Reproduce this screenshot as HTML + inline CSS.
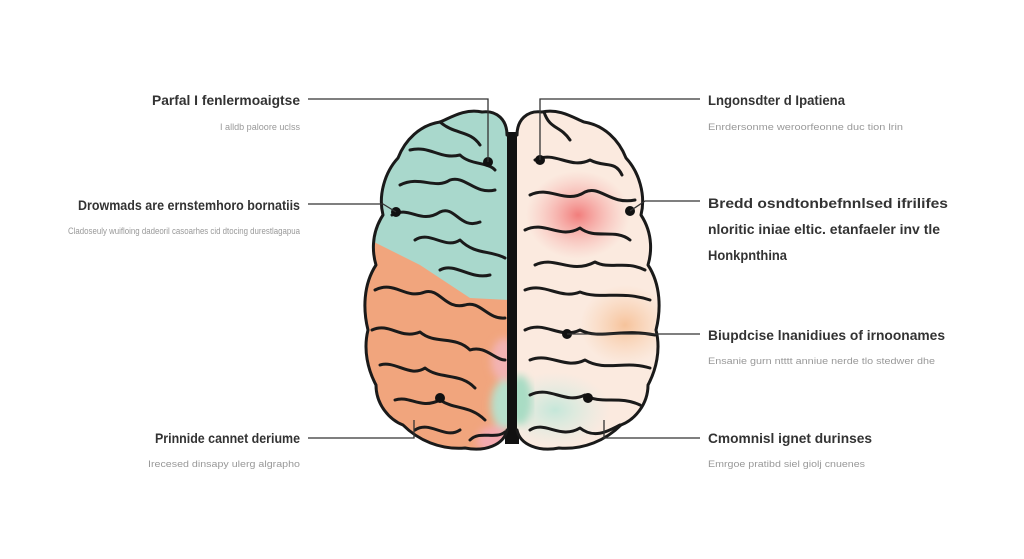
<!DOCTYPE html>
<html><head><meta charset="utf-8"><style>
html,body{margin:0;padding:0;background:#fff;}
svg{display:block}
.t{font-family:"Liberation Sans",sans-serif;font-weight:bold;font-size:14px;fill:#333;}
.s{font-family:"Liberation Sans",sans-serif;font-size:9px;fill:#999;}
.g{fill:none;stroke:#1a1a1a;stroke-width:3;stroke-linecap:round;stroke-linejoin:round}
.l{fill:none;stroke:#333;stroke-width:1.3}
</style></head><body>
<svg width="1024" height="559" viewBox="0 0 1024 559">
<defs>
<clipPath id="lh"><path d="M507,135 C507,120 497,110 482,112 C465,108 450,118 440,122 C420,125 405,140 398,158 C385,172 378,195 383,215 C370,235 373,255 376,265 C363,285 363,310 368,330 C363,350 368,370 376,385 C376,405 390,420 403,425 C418,440 440,450 465,448 C485,452 504,445 507,430 Z"/></clipPath>
<clipPath id="rh"><path d="M517,135 C517,120 527,110 542,112 C559,108 574,118 584,122 C604,125 619,140 626,158 C639,172 646,195 641,215 C654,235 651,255 648,265 C661,285 661,310 656,330 C661,350 656,370 648,385 C648,405 634,420 621,425 C606,440 584,450 559,448 C539,452 520,445 517,430 Z"/></clipPath>
<radialGradient id="red"><stop offset="0" stop-color="#f06a6a" stop-opacity=".85"/><stop offset="1" stop-color="#f6a0a0" stop-opacity="0"/></radialGradient>
<radialGradient id="org"><stop offset="0" stop-color="#f5b98a" stop-opacity=".8"/><stop offset="1" stop-color="#f8caa4" stop-opacity="0"/></radialGradient>
<radialGradient id="mint"><stop offset="0" stop-color="#bfe6d8" stop-opacity=".9"/><stop offset="1" stop-color="#d6efe6" stop-opacity="0"/></radialGradient>
<filter id="bl"><feGaussianBlur stdDeviation="4"/></filter>
</defs>
<rect x="505" y="132" width="14" height="312" fill="#111"/>
<g clip-path="url(#lh)">
<rect x="360" y="100" width="150" height="360" fill="#f1a57d"/>
<path d="M360,100 L510,100 L510,300 L470,298 L420,265 L370,240 Z" fill="#a9d8cc"/>
<g filter="url(#bl)">
<ellipse cx="505" cy="360" rx="14" ry="22" fill="#f2b3b3"/>
<ellipse cx="505" cy="405" rx="14" ry="25" fill="#b7e0cc"/>
<ellipse cx="495" cy="440" rx="18" ry="14" fill="#f4aab0"/>
</g>
</g>
<g clip-path="url(#rh)">
<rect x="515" y="100" width="150" height="360" fill="#fbeadf"/>
<ellipse cx="578" cy="215" rx="52" ry="44" fill="url(#red)"/>
<ellipse cx="625" cy="325" rx="45" ry="40" fill="url(#org)"/>
<ellipse cx="555" cy="410" rx="55" ry="38" fill="url(#mint)"/>
<ellipse cx="520" cy="400" rx="12" ry="25" fill="#a9dcc4" filter="url(#bl)"/>
</g>
<path class="g" d="M507,135 C507,120 497,110 482,112 C465,108 450,118 440,122 C420,125 405,140 398,158 C385,172 378,195 383,215 C370,235 373,255 376,265 C363,285 363,310 368,330 C363,350 368,370 376,385 C376,405 390,420 403,425 C418,440 440,450 465,448 C485,452 504,445 507,430"/>
<path class="g" d="M517,135 C517,120 527,110 542,112 C559,108 574,118 584,122 C604,125 619,140 626,158 C639,172 646,195 641,215 C654,235 651,255 648,265 C661,285 661,310 656,330 C661,350 656,370 648,385 C648,405 634,420 621,425 C606,440 584,450 559,448 C539,452 520,445 517,430"/>
<g class="g" stroke-width="2.2">
<path d="M440,122 C455,135 470,130 480,145 M410,150 C430,145 440,160 460,155 C470,165 488,162 495,170"/>
<path d="M400,185 C420,175 435,190 450,180 C465,175 475,195 495,190 M392,215 C410,205 420,225 440,212 C455,205 460,230 480,222"/>
<path d="M415,240 C430,230 445,250 460,240 C475,255 490,250 505,258 M440,270 C455,262 470,280 490,275"/>
<path d="M375,290 C395,280 405,300 425,292 C440,288 445,310 465,305 C480,300 488,320 505,318"/>
<path d="M372,330 C390,322 400,340 420,332 C435,345 455,335 470,350 C485,345 495,360 505,360"/>
<path d="M380,365 C395,360 410,378 425,368 C440,380 460,372 475,388 M395,400 C410,395 420,410 440,400 C455,410 470,405 485,420"/>
<path d="M415,430 C430,420 445,440 460,430 M470,440 C480,430 495,440 505,432"/>
<path d="M544,112 C550,130 560,125 570,140 M535,160 C555,150 570,170 590,160 C605,168 615,160 622,175"/>
<path d="M530,195 C550,185 565,205 585,192 C600,185 610,205 635,200 M525,230 C545,220 560,240 580,228 C595,240 615,228 630,240"/>
<path d="M535,265 C555,255 570,275 595,262 C610,270 625,260 645,270 M525,290 C545,282 560,300 580,292 C600,300 620,290 650,300"/>
<path d="M525,330 C545,320 560,340 580,330 C600,340 620,328 655,335 M530,360 C550,352 565,370 585,360 C605,372 625,360 650,368"/>
<path d="M530,395 C550,385 565,405 585,395 C600,405 620,395 640,405 M530,430 C545,420 560,440 580,428 C595,440 610,430 620,425"/>
</g>
<g fill="#111">
<circle cx="488" cy="162" r="5"/><circle cx="396" cy="212" r="5"/><circle cx="440" cy="398" r="5"/>
<circle cx="540" cy="160" r="5"/><circle cx="630" cy="211" r="5"/><circle cx="567" cy="334" r="5"/><circle cx="588" cy="398" r="5"/>
</g>
<g class="l">
<path d="M308,99 H488 V162"/>
<path d="M308,204 H383 L396,212"/>
<path d="M308,438 H414 V420"/>
<path d="M540,160 V99 H700"/>
<path d="M630,211 L645,201 H700"/>
<path d="M567,334 H700"/>
<path d="M604,420 V438 H700"/>
</g>
<text class="t" x="152" y="105" textLength="148" lengthAdjust="spacingAndGlyphs">Parfal I fenlermoaigtse</text>
<text class="s" x="220" y="130" textLength="80" lengthAdjust="spacingAndGlyphs">I alldb paloore uclss</text>
<text class="t" x="78" y="210" textLength="222" lengthAdjust="spacingAndGlyphs">Drowmads are ernstemhoro bornatiis</text>
<text class="s" x="68" y="234" textLength="232" lengthAdjust="spacingAndGlyphs">Cladoseuly wuifloing dadeoril casoarhes cid dtocing durestlagapua</text>
<text class="t" x="155" y="443" textLength="145" lengthAdjust="spacingAndGlyphs">Prinnide cannet deriume</text>
<text class="s" x="148" y="467" textLength="152" lengthAdjust="spacingAndGlyphs">Irecesed dinsapy ulerg algrapho</text>
<text class="t" x="708" y="105" textLength="137" lengthAdjust="spacingAndGlyphs">Lngonsdter d Ipatiena</text>
<text class="s" x="708" y="130" textLength="195" lengthAdjust="spacingAndGlyphs">Enrdersonme weroorfeonne duc tion lrin</text>
<text class="t" x="708" y="208" textLength="240" lengthAdjust="spacingAndGlyphs">Bredd osndtonbefnnlsed ifrilifes</text>
<text class="t" x="708" y="234" textLength="232" lengthAdjust="spacingAndGlyphs">nloritic iniae eltic. etanfaeler inv tle</text>
<text class="t" x="708" y="260" textLength="79" lengthAdjust="spacingAndGlyphs">Honkpnthina</text>
<text class="t" x="708" y="340" textLength="237" lengthAdjust="spacingAndGlyphs">Biupdcise lnanidiues of irnoonames</text>
<text class="s" x="708" y="364" textLength="227" lengthAdjust="spacingAndGlyphs">Ensanie gurn ntttt anniue nerde tlo stedwer dhe</text>
<text class="t" x="708" y="443" textLength="164" lengthAdjust="spacingAndGlyphs">Cmomnisl ignet durinses</text>
<text class="s" x="708" y="467" textLength="157" lengthAdjust="spacingAndGlyphs">Emrgoe pratibd siel giolj cnuenes</text>
</svg>
</body></html>
